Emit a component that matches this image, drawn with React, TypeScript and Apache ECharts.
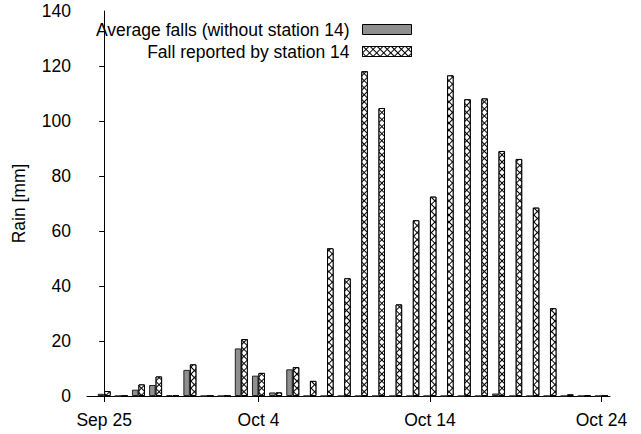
import React, { useEffect, useRef } from "react";
import * as echarts from "echarts";

const dates = [
  "Sep 25", "Sep 26", "Sep 27", "Sep 28", "Sep 29", "Sep 30", "Oct 1", "Oct 2",
  "Oct 3", "Oct 4", "Oct 5", "Oct 6", "Oct 7", "Oct 8", "Oct 9", "Oct 10",
  "Oct 11", "Oct 12", "Oct 13", "Oct 14", "Oct 15", "Oct 16", "Oct 17", "Oct 18",
  "Oct 19", "Oct 20", "Oct 21", "Oct 22", "Oct 23", "Oct 24",
];

const averageFalls = [
  0.8, 0, 2.3, 4.0, 0.3, 9.5, 0, 0, 17.3, 7.4, 1.3, 9.7, 0, 0, 0, 0,
  0, 0, 0, 0, 0, 0, 0, 0.9, 0, 0, 0, 0, 0, 0,
];

const station14 = [
  1.8, 0, 4.2, 7.1, 0.3, 11.5, 0, 0, 20.7, 8.4, 1.3, 10.5, 5.5, 53.7, 42.8, 118.1,
  104.7, 33.3, 63.9, 72.5, 116.6, 107.9, 108.2, 89.1, 86.2, 68.5, 31.9, 0.6, 0.3, 0,
];

const tickDates = ["Sep 25", "Oct 4", "Oct 14", "Oct 24"];
const yTicks = [0, 20, 40, 60, 80, 100, 120];

const seriesNames = ["Average falls (without station 14)", "Fall reported by station 14"];

const FONT = "'Liberation Sans', Arial, Helvetica, sans-serif";
const FS = 17.5;

export default function App() {
  const ref = useRef<HTMLDivElement>(null);

  useEffect(() => {
    if (!ref.current) return;
    const chart = echarts.init(ref.current, undefined, { renderer: "svg" });
    const tickIdx = tickDates.map((d) => dates.indexOf(d));
    const option: any = {
      animation: false,
      backgroundColor: "#fff",
      textStyle: { fontFamily: FONT },
      grid: { left: 87, width: 523, top: 11, bottom: 38, containLabel: false },
      legend: {
        orient: "vertical",
        align: "right",
        right: 229,
        top: 19,
        padding: 0,
        itemWidth: 49,
        itemHeight: 10,
        itemGap: 1,
        icon: "rect",
        itemStyle: { borderColor: "#000", borderWidth: 1 },
        textStyle: {
          fontSize: FS,
          fontFamily: FONT,
          color: "#000",
          lineHeight: 21,
          padding: [0, 8, 0, 0],
        },
        data: seriesNames,
      },
      xAxis: {
        type: "value",
        min: -1,
        max: 29.5,
        splitLine: { show: false },
        axisLine: { show: true, onZero: false, lineStyle: { color: "#000", width: 1 } },
        axisTick: { show: true, length: 6, customValues: tickIdx, lineStyle: { color: "#000" } },
        axisLabel: {
          customValues: tickIdx,
          formatter: (v: number) => dates[Math.round(v)] ?? "",
          fontSize: FS,
          fontFamily: FONT,
          color: "#000",
          margin: 15,
        },
      },
      yAxis: {
        type: "value",
        min: 0,
        max: 140,
        interval: 20,
        name: "Rain [mm]",
        nameLocation: "middle",
        nameRotate: 90,
        nameGap: 59,
        nameTextStyle: { fontSize: FS, fontFamily: FONT, color: "#000" },
        splitLine: { show: false },
        axisLine: { show: true, lineStyle: { color: "#000", width: 1 } },
        axisTick: { show: true, length: 5, customValues: yTicks, lineStyle: { color: "#000" } },
        axisLabel: { fontSize: FS, fontFamily: FONT, color: "#000", margin: 16 },
      },
      series: [
        {
          name: seriesNames[0],
          type: "bar",
          barWidth: 6.5,
          barGap: "0%",
          itemStyle: { color: "#8f8f8f", borderColor: "#222", borderWidth: 1 },
          data: averageFalls.map((v, i) => [i, v]),
        },
        {
          name: seriesNames[1],
          type: "bar",
          barWidth: 6.5,
          barGap: "0%",
          itemStyle: {
            color: "#000",
            borderColor: "#000",
            borderWidth: 1,
            decal: {
              symbol: "rect",
              symbolSize: 1,
              color: "#fff",
              dashArrayX: [4, 1],
              dashArrayY: [4, 1],
              rotation: Math.PI / 4,
            },
          },
          data: station14.map((v, i) => [i, v]),
        },
      ],
    };
    chart.setOption(option);
    return () => chart.dispose();
  }, []);

  return (
    <div
      ref={ref}
      style={{ position: "fixed", left: 0, top: 0, width: 641, height: 434 }}
    />
  );
}
